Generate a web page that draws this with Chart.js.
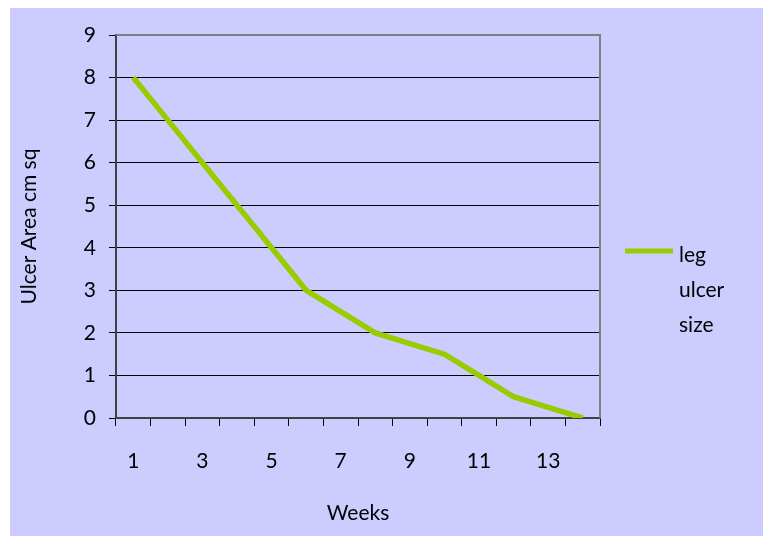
<!DOCTYPE html>
<html>
<head>
<meta charset="utf-8">
<script src="https://cdn.jsdelivr.net/npm/chart.js@4.4.0/dist/chart.umd.min.js"></script>
<style>
  html, body { margin: 0; padding: 0; background: #fff; overflow: hidden; }
  #wrap { width: 763px; height: 536px; position: relative; }
  #myChart1 { display: block; }
</style>
</head>
<body>
<div id="wrap"><canvas id="myChart1"></canvas></div>
<script>
const weeks = ['1', '2', '3', '4', '5', '6', '7', '8', '9', '10', '11', '12', '13', '14'];
const ulcerArea = [8, 7, 6, 5, 4, 3, 2.5, 2, 1.75, 1.5, 1, 0.5, 0.25, 0];
const legendLines = ['leg', 'ulcer', 'size'];

const FONT = 'Lato, "Open Sans", sans-serif';

// lavender slide background + grey plot frame + hand drawn legend
const slideBits = {
  id: 'slideBits',
  beforeDraw(chart) {
    const c = chart.ctx;
    c.save();
    c.fillStyle = '#ffffff';
    c.fillRect(0, 0, chart.width, chart.height);
    c.fillStyle = '#ccccff';
    c.fillRect(10, 8, chart.width - 10, chart.height - 8);
    c.restore();
  },
  afterDraw(chart) {
    const c = chart.ctx;
    const a = chart.chartArea;
    c.save();
    c.strokeStyle = '#808080';
    c.lineWidth = 2;
    c.beginPath();
    c.moveTo(a.left, a.top);
    c.lineTo(a.right, a.top);
    c.lineTo(a.right, a.bottom);
    c.stroke();

    // legend
    const ds = chart.data.datasets[0];
    const y0 = a.top + 216;
    c.strokeStyle = ds.borderColor;
    c.lineWidth = 5;
    c.beginPath();
    c.moveTo(a.right + 25, y0);
    c.lineTo(a.right + 73, y0);
    c.stroke();
    c.fillStyle = '#000';
    c.font = '21px ' + FONT;
    c.textBaseline = 'middle';
    c.textAlign = 'left';
    legendLines.forEach((t, i) => c.fillText(t, a.right + 79, y0 + 4 + i * 35));
    c.restore();
  }
};

const ctx = document.getElementById('myChart1').getContext('2d');

const myChart = new Chart(ctx, {
  type: 'line',
  data: {
    labels: weeks,
    datasets: [{
      label: legendLines.join(' '),
      data: ulcerArea,
      borderColor: '#99cc00',
      borderWidth: 5.5,
      pointRadius: 0,
      tension: 0,
      fill: false,
    }],
  },
  options: {
    responsive: true,
    maintainAspectRatio: false,
    animation: false,
    layout: { padding: { left: 0, top: 35, right: 163, bottom: 0 } },
    plugins: {
      legend: { display: false },
      tooltip: { enabled: false },
    },
    scales: {
      x: {
        offset: true,
        grid: {
          offset: true,
          drawOnChartArea: false,
          drawTicks: true,
          tickLength: 8,
          color: '#000',
        },
        border: { color: '#404040', width: 2 },
        ticks: {
          autoSkip: false,
          maxRotation: 0,
          padding: 23,
          color: '#000',
          font: { family: FONT, size: 21 },
          callback: function (value, index) {
            return index % 2 === 0 ? weeks[index] : '';
          },
        },
        title: {
          display: true,
          text: 'Weeks',
          color: '#000',
          font: { family: FONT, size: 21 },
          padding: { top: 0, bottom: 10 },
        },
        afterFit: function (scale) { scale.height = 118; },
      },
      y: {
        min: 0,
        max: 9,
        grid: {
          color: '#000',
          lineWidth: 1,
          tickLength: 7,
        },
        border: { color: '#404040', width: 2 },
        ticks: {
          stepSize: 1,
          padding: 13,
          color: '#000',
          font: { family: FONT, size: 21 },
        },
        title: {
          display: true,
          text: 'Ulcer Area cm sq',
          color: '#000',
          font: { family: FONT, size: 21 },
          padding: { top: 17, bottom: 0 },
        },
        afterFit: function (scale) { scale.width = 116; },
      },
    },
  },
  plugins: [slideBits],
});
</script>
</body>
</html>
